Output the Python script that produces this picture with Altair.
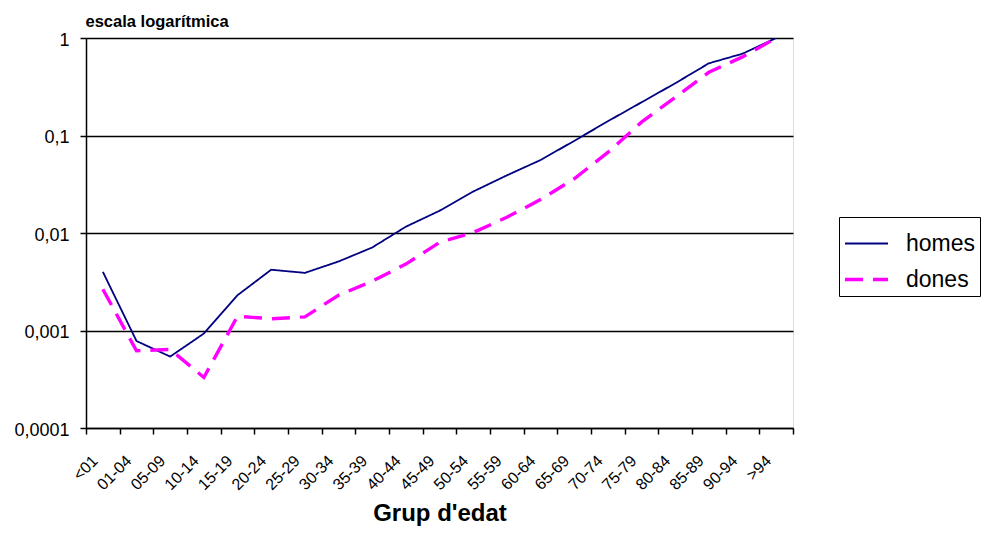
import altair as alt
import pandas as pd

ages = ["<01", "01-04", "05-09", "10-14", "15-19", "20-24", "25-29", "30-34", "35-39",
        "40-44", "45-49", "50-54", "55-59", "60-64", "65-69", "70-74", "75-79", "80-84",
        "85-89", "90-94", ">94"]
homes = [0.0040, 0.00078, 0.00054, 0.00093, 0.0023, 0.0042, 0.0039, 0.0051, 0.0071,
         0.0116, 0.0169, 0.0266, 0.039, 0.056, 0.088, 0.14, 0.219, 0.343, 0.55, 0.69, 1.0]
dones = [0.00265, 0.00062, 0.00064, 0.00033, 0.0014, 0.00132, 0.00138, 0.0023, 0.0032,
         0.0048, 0.0080, 0.0101, 0.0145, 0.022, 0.036, 0.067, 0.137, 0.246, 0.445, 0.64, 1.0]
series = ["homes", "dones"]
y_ticks = [0.0001, 0.001, 0.01, 0.1, 1]

rows = []
for s, vals in zip(series, [homes, dones]):
    for a, v in zip(ages, vals):
        rows.append({"grup": a, "serie": s, "valor": v})
df = pd.DataFrame(rows)

FONT = "Liberation Sans"

chart = alt.Chart(df).mark_line(clip=True).encode(
    x=alt.X("grup:N", sort=ages,
            scale=alt.Scale(type="band", paddingInner=0, paddingOuter=0),
            axis=alt.Axis(title="Grup d'edat", tickBand="extent", labelAngle=-45,
                          labelAlign="right", labelBaseline="middle",
                          labelFontSize=16, labelFont=FONT, labelColor="black",
                          labelOffset=-8, labelPadding=24,
                          titleFont=FONT, titleFontSize=24, titleFontWeight="bold",
                          titleColor="black", titleBaseline="alphabetic", titleY=92,
                          domainColor="black", tickColor="black", tickSize=6,
                          domainWidth=1.5, tickWidth=1.5,
                          grid=False)),
    y=alt.Y("valor:Q",
            scale=alt.Scale(type="log", domain=[0.0001, 1], nice=False),
            axis=alt.Axis(values=y_ticks, title="escala logarítmica",
                          labelExpr="replace(toString(datum.value), '.', ',')",
                          labelFontSize=18, labelFont=FONT, labelColor="black",
                          labelOffset=2,
                          titleAngle=0, titleAlign="left", titleBaseline="alphabetic",
                          titleX=-1, titleY=-12,
                          titleFont=FONT, titleFontSize=16.5, titleFontWeight="bold",
                          titleColor="black",
                          grid=True, gridColor="black", gridWidth=1.5, gridOpacity=1,
                          domainColor="black", tickColor="black", tickSize=6,
                          domainWidth=1.5, tickWidth=1.5,
                          labelPadding=11)),
    color=alt.Color("serie:N", sort=series,
                    scale=alt.Scale(domain=series, range=["#000080", "#FF00FF"]),
                    legend=alt.Legend(title=None, orient="none", legendX=753, legendY=179,
                                      symbolType="stroke", symbolSize=1849,
                                      symbolStrokeWidth=2.5,
                                      labelFontSize=23, labelFont=FONT, labelColor="black",
                                      strokeColor="black", padding=4, rowPadding=-5,
                                      labelOffset=16, fillColor="white")),
    strokeDash=alt.StrokeDash("serie:N", sort=series,
                              scale=alt.Scale(domain=series, range=[[1, 0], [18, 10]]),
                              legend=alt.Legend(title=None)),
    strokeWidth=alt.StrokeWidth("serie:N", sort=series,
                                scale=alt.Scale(domain=series, range=[1.8, 3.4]),
                                legend=alt.Legend(title=None)),
).properties(
    width=707, height=390,
    autosize=alt.AutoSizeParams(type="none"),
    padding={"left": 78, "top": 30, "right": 190, "bottom": 99},
).configure_view(
    stroke="#808080", strokeWidth=1.5
).configure(background="white")

chart.save("out.html", embed_options={"renderer": "svg", "actions": False})
